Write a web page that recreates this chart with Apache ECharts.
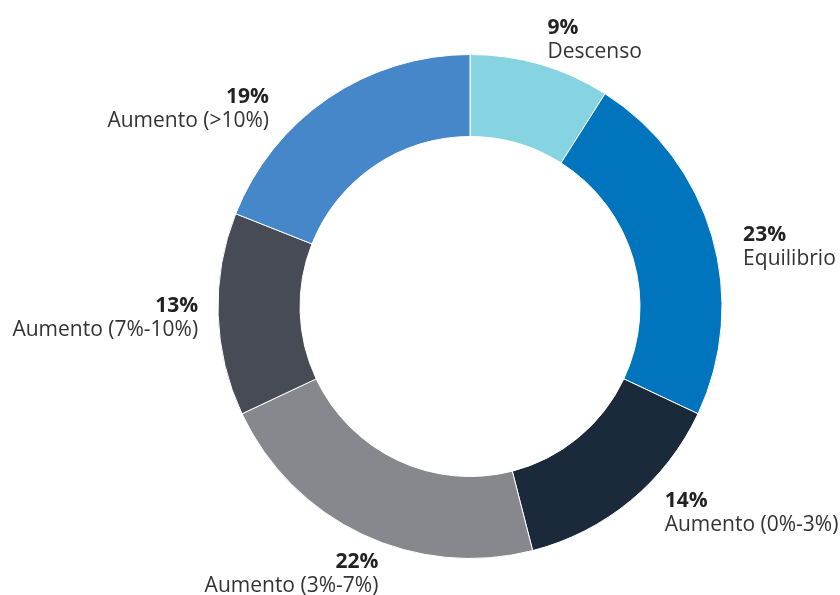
<!DOCTYPE html>
<html>
<head>
<meta charset="utf-8">
<script src="https://cdn.jsdelivr.net/npm/echarts@6/dist/echarts.min.js"></script>
<style>
  html, body { margin: 0; padding: 0; background: #fff; }
  #main { width: 840px; height: 595px; }
</style>
</head>
<body>
<div id="main"></div>
<script>
// categories and shares (%), clockwise from the top
const categories = ['Descenso', 'Equilibrio', 'Aumento (0%-3%)', 'Aumento (3%-7%)', 'Aumento (7%-10%)', 'Aumento (>10%)'];
const shares = [9, 23, 14, 22, 13, 19];
const colors = ['#86D3E1', '#0075BE', '#1A2A3A', '#86888D', '#474B55', '#4587C8'];

const myChart = echarts.init(document.getElementById('main'));

// small nudges so the labels sit where the original puts them
const labelNudge = [[-1, -3], [8, 17], [18, -5], [27, 20], [4, 3], [-45, 29]];

const option = {
  animation: false,
  textStyle: { fontFamily: '"Open Sans", "Noto Sans", sans-serif' },
  series: [
    {
      type: 'pie',
      center: [470, 306.5],
      radius: [170, 252],
      startAngle: 90,
      clockwise: true,
      avoidLabelOverlap: false,
      itemStyle: { borderColor: '#fff', borderWidth: 1 },
      label: {
        show: true,
        position: 'outside',
        distanceToLabelLine: 2,
        formatter: '{p|{c}%}\n{n|{b}}',
        rich: {
          p: { fontSize: 21, fontWeight: 'bold', color: '#222', lineHeight: 24, fontFamily: '"Open Sans", sans-serif' },
          n: { fontSize: 21, color: '#333', lineHeight: 24, fontFamily: '"Open Sans", sans-serif' }
        }
      },
      labelLine: { show: false, length: 22, length2: 0 },
      labelLayout: function (p) {
        const n = labelNudge[p.dataIndex];
        return { dx: n[0], dy: n[1] };
      },
      emphasis: { disabled: true },
      data: categories.map((name, i) => ({
        name: name,
        value: shares[i],
        itemStyle: { color: colors[i] }
      }))
    }
  ]
};

myChart.setOption(option);
</script>
</body>
</html>
